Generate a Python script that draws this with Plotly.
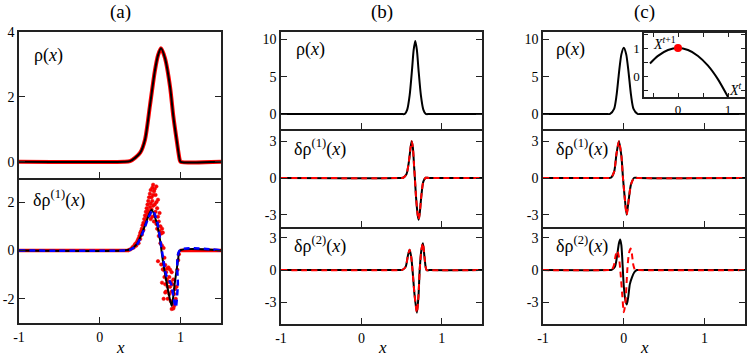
import plotly.graph_objects as go

W, H = 747, 357

# ---------------- data ----------------
# panel (a)
a_rho_x = [-1, 0.30, 0.374, 0.436, 0.50, 0.56, 0.62, 0.68, 0.72, 0.757, 0.807, 0.87, 0.91, 0.95, 0.99, 1.0, 1.5]
a_rho_y = [0, 0, 0.02, 0.12, 0.28, 0.69, 1.72, 2.78, 3.28, 3.5, 3.19, 2.3, 1.4, 0.69, 0.05, 0, 0]

a_d1_black_x = [-1, 0.30, 0.374, 0.456, 0.54, 0.60, 0.642, 0.704, 0.745, 0.778, 0.82, 0.86, 0.89, 0.93, 0.97, 0.99, 1.5]
a_d1_black_y = [0, 0, 0.04, 0.25, 0.86, 1.41, 1.69, 1.15, 0.45, -0.37, -1.2, -1.9, -2.29, -1.3, -0.37, 0, 0]

a_d1_blue_x = [-1, 0.30, 0.374, 0.456, 0.54, 0.60, 0.655, 0.71, 0.75, 0.785, 0.82, 0.86, 0.885, 0.91, 0.94, 0.965, 0.99, 1.5]
a_d1_blue_y = [0, 0, 0.03, 0.22, 0.8, 1.35, 1.66, 1.2, 0.4, -0.35, -1.0, -1.25, -1.4, -1.9, -2.35, -1.5, 0, 0]

a_dots_x = [0.36, 0.38, 0.40, 0.41, 0.42, 0.43, 0.44, 0.45, 0.46, 0.47, 0.48, 0.48, 0.49, 0.50, 0.50, 0.51,
            0.52, 0.52, 0.53, 0.54, 0.54, 0.55, 0.56, 0.56, 0.57, 0.57, 0.58, 0.58, 0.59, 0.59, 0.60, 0.60,
            0.61, 0.61, 0.62, 0.62, 0.63, 0.63, 0.63, 0.64, 0.64, 0.65, 0.65, 0.65, 0.66, 0.66, 0.66, 0.67,
            0.67, 0.68, 0.68, 0.69, 0.69, 0.70, 0.70, 0.70, 0.71, 0.71, 0.72, 0.72, 0.72, 0.73, 0.73, 0.74,
            0.74, 0.75, 0.75, 0.76, 0.76, 0.77, 0.77, 0.77, 0.78, 0.78, 0.79, 0.79, 0.79, 0.80, 0.80, 0.81,
            0.81, 0.81, 0.82, 0.82, 0.83, 0.83, 0.84, 0.84, 0.85, 0.85, 0.86, 0.86, 0.87, 0.87, 0.88, 0.88,
            0.89, 0.89, 0.89, 0.90, 0.90, 0.91, 0.91, 0.92, 0.92, 0.93, 0.94, 0.95, 0.96, 0.97, 0.98]
a_dots_y = [0.02, 0.05, 0.10, 0.15, 0.12, 0.22, 0.28, 0.20, 0.35, 0.42, 0.50, 0.30, 0.60, 0.72, 0.48, 0.80,
            0.90, 0.65, 1.05, 1.15, 0.85, 1.30, 1.45, 1.10, 1.60, 1.25, 1.75, 1.40, 1.90, 1.55, 2.05, 1.65,
            2.20, 1.50, 2.35, 1.80, 2.50, 1.95, 1.30, 2.20, 1.70, 2.60, 2.05, 1.40, 2.72, 2.30, 1.85, 2.45,
            1.20, 2.55, 1.90, 2.30, 1.60, 2.65, 2.00, 1.10, 1.75, 0.90, 2.10, 1.40, -0.44, 1.20, 0.60, 1.55,
            0.80, 1.00, 0.30, 0.70, -0.58, 0.90, 0.20, -1.33, 0.74, -0.78, 0.10, -0.80, -2.00, -0.30, -1.10, -0.60,
            -1.40, -1.74, -0.90, -1.70, -1.20, -0.75, -1.50, -2.00, -0.70, -1.30, -1.10, -1.80, -0.80, -1.50, -1.30, -2.10,
            -0.90, -1.70, -2.42, -1.40, -2.20, -1.20, -2.40, -1.80, -2.30, -1.60, -2.00, -1.50, -0.80, -0.40, -0.15]
a_flat_left_x = [-1, 0.36]
a_flat_right_x = [0.99, 1.5]
a_flat_y = [0, 0]

# panel (b)
b_rho_x = [-1, 0.50, 0.54, 0.57, 0.60, 0.63, 0.65, 0.67, 0.69, 0.71, 0.74, 0.77, 0.80, 0.84, 1.5]
b_rho_y = [0, 0, 0.02, 0.6, 2.5, 6.0, 8.6, 9.8, 8.6, 6.0, 2.5, 0.6, 0.02, 0, 0]

b_d1_x = [-1, 0.48, 0.52, 0.56, 0.59, 0.61, 0.625, 0.64, 0.655, 0.665, 0.68, 0.70, 0.712, 0.725, 0.745, 0.77, 0.80, 0.84, 1.5]
b_d1_y = [0, 0, 0.02, 0.3, 1.3, 2.4, 3.0, 2.5, 1.0, 0, -1.6, -3.0, -3.4, -2.9, -1.5, -0.3, 0.02, 0, 0]

b_d2_x = [-1, 0.47, 0.51, 0.55, 0.58, 0.60, 0.62, 0.636, 0.66, 0.69, 0.71, 0.725, 0.745, 0.765, 0.785, 0.81, 0.85, 1.5]
b_d2_y = [0, 0, 0.02, 0.3, 1.4, 1.9, 1.2, 0, -2.2, -3.95, -2.4, 0, 1.8, 2.5, 1.2, 0.02, 0, 0]

# panel (c)
c_rho_x = [-1, -0.21, -0.17, -0.12, -0.09, -0.06, -0.03, 0.0, 0.03, 0.06, 0.09, 0.12, 0.17, 0.21, 1.5]
c_rho_y = [0, 0, 0.02, 0.7, 2.5, 5.5, 8.0, 8.9, 8.0, 5.5, 2.5, 0.7, 0.02, 0, 0]

c_d1_x = [-1, -0.20, -0.16, -0.12, -0.09, -0.06, -0.03, -0.01, 0.01, 0.035, 0.06, 0.09, 0.13, 0.17, 1.5]
c_d1_y = [0, 0, 0.02, 0.5, 2.0, 3.0, 1.8, 0, -1.5, -3.0, -1.8, -0.5, 0.02, 0, 0]

c_d2_black_x = [-1, -0.19, -0.15, -0.11, -0.08, -0.06, -0.045, -0.03, -0.015, 0.0, 0.02, 0.037, 0.055, 0.075, 0.10, 0.13, 0.16, 0.20, 1.5]
c_d2_black_y = [0, 0, 0.02, 0.3, 1.5, 2.5, 2.85, 2.3, 0.5, -1.5, -2.8, -3.2, -2.5, -1.3, -0.7, -0.2, 0.01, 0, 0]

c_d2_red_x = [-1, -0.19, -0.15, -0.12, -0.10, -0.08, -0.06, -0.04, -0.02, 0.0, 0.02, 0.045, 0.065, 0.085, 0.10, 0.12, 0.14, 0.18, 1.5]
c_d2_red_y = [0, 0, 0.02, 0.5, 1.4, 1.8, 1.2, -0.3, -2.2, -3.9, -3.0, 0.2, 1.6, 2.0, 1.5, 0.4, 0.02, 0, 0]

# inset map
map_x = [-0.56, -0.4, -0.2, 0.0, 0.2, 0.4, 0.6, 0.8, 1.0]
map_y = [0.45, 0.72, 0.93, 1.0, 0.93, 0.72, 0.37, -0.12, -0.75]
fixed_x = [0.0]
fixed_y = [1.0]

x_tick_vals = [-1, 0, 1]
x_tick_text = ["-1", "0", "1"]

# ---------------- layout helpers ----------------
def dx(p0, p1):
    return [p0 / W, p1 / W]

def dy(p0, p1):
    return [1 - p1 / H, 1 - p0 / H]

FONT = "Liberation Serif"
LC = "#222222"

fig = go.Figure()

def line(x, y, ax, color, width, dash="solid", shape="spline"):
    fig.add_trace(go.Scatter(x=x, y=y, mode="lines", xaxis="x" + ax, yaxis="y" + ax,
                             line=dict(color=color, width=width, dash=dash, shape=shape, smoothing=0.7),
                             showlegend=False, hoverinfo="skip"))

DASH = "6px,4px"
# (a) top
line(a_rho_x, a_rho_y, "", "red", 4)
line(a_rho_x, a_rho_y, "", "black", 2)
# (a) bottom
line(a_flat_left_x, a_flat_y, "2", "red", 3.5, shape="linear")
line(a_flat_right_x, a_flat_y, "2", "red", 3.5, shape="linear")
fig.add_trace(go.Scatter(x=a_dots_x, y=a_dots_y, mode="markers", xaxis="x2", yaxis="y2",
                         marker=dict(color="red", size=3.5, line=dict(color="#e00000", width=0.5)),
                         showlegend=False, hoverinfo="skip"))
line(a_d1_black_x, a_d1_black_y, "2", "black", 2)
line(a_d1_blue_x, a_d1_blue_y, "2", "blue", 2.5, dash=DASH)
# (b)
line(b_rho_x, b_rho_y, "3", "black", 2)
line(b_d1_x, b_d1_y, "4", "black", 2)
line(b_d1_x, b_d1_y, "4", "red", 2, dash=DASH)
line(b_d2_x, b_d2_y, "5", "black", 2)
line(b_d2_x, b_d2_y, "5", "red", 2, dash=DASH)
# (c)
line(c_rho_x, c_rho_y, "6", "black", 2)
line(c_d1_x, c_d1_y, "7", "black", 2)
line(c_d1_x, c_d1_y, "7", "red", 2, dash=DASH)
line(c_d2_black_x, c_d2_black_y, "8", "black", 2)
line(c_d2_red_x, c_d2_red_y, "8", "red", 2, dash=DASH)
# inset
line(map_x, map_y, "9", "black", 2)
fig.add_trace(go.Scatter(x=fixed_x, y=fixed_y, mode="markers", xaxis="x9", yaxis="y9",
                         marker=dict(color="red", size=8), showlegend=False, hoverinfo="skip"))

# ---------------- axes ----------------
tickfont = dict(family=FONT, size=14, color="black")
insetfont = dict(family=FONT, size=13, color="black")

def xax(dom, anchor, labels, top_line):
    return dict(domain=dom, anchor=anchor, range=[-1, 1.5], tickvals=x_tick_vals, ticktext=x_tick_text,
                ticks="inside", ticklen=6, tickwidth=1.3, tickcolor=LC,
                showline=True, linewidth=1.5, linecolor=LC, mirror=top_line,
                showgrid=False, zeroline=False, showticklabels=labels, tickfont=tickfont,
                automargin=False)

def yax(dom, anchor, rng, vals):
    return dict(domain=dom, anchor=anchor, range=rng, tickvals=vals, ticktext=[str(v) for v in vals],
                ticks="inside", ticklen=6, tickwidth=1.3, tickcolor=LC,
                showline=True, linewidth=1.5, linecolor=LC, mirror="ticks",
                showgrid=False, zeroline=False, tickfont=tickfont, automargin=False)

ax_a = dx(19, 221)
ax_b = dx(281, 482)
ax_c = dx(543, 745)
r1 = dy(32, 178)
r2 = dy(178, 323)
s1 = dy(32, 129)
s2 = dy(129, 227)
s3 = dy(227, 324)

fig.update_layout(
    template="none",
    xaxis=xax(ax_a, "y", False, True), yaxis=yax(r1, "x", [-0.5, 4], [0, 2, 4]),
    xaxis2=xax(ax_a, "y2", True, False), yaxis2=yax(r2, "x2", [-3, 3], [-2, 0, 2]),
    xaxis3=xax(ax_b, "y3", False, True), yaxis3=yax(s1, "x3", [-2, 11], [0, 5, 10]),
    xaxis4=xax(ax_b, "y4", False, False), yaxis4=yax(s2, "x4", [-4, 4], [-3, 0, 3]),
    xaxis5=xax(ax_b, "y5", True, False), yaxis5=yax(s3, "x5", [-5, 4], [-3, 0, 3]),
    xaxis6=xax(ax_c, "y6", False, True), yaxis6=yax(s1, "x6", [-2, 11], [0, 5, 10]),
    xaxis7=xax(ax_c, "y7", False, False), yaxis7=yax(s2, "x7", [-4, 4], [-3, 0, 3]),
    xaxis8=xax(ax_c, "y8", True, False), yaxis8=yax(s3, "x8", [-5, 4], [-3, 0, 3]),
    xaxis9=dict(domain=dx(644, 745), anchor="y9", range=[-0.68, 1.34],
                tickvals=[-0.5, 0, 0.5, 1], ticktext=["", "0", "", "1"],
                ticks="inside", ticklen=4, tickwidth=1, tickcolor=LC,
                showline=True, linewidth=1.5, linecolor=LC, mirror="ticks",
                showgrid=False, zeroline=False, tickfont=insetfont, automargin=False),
    yaxis9=dict(domain=dy(33, 97), anchor="x9", range=[-0.75, 1.54],
                tickvals=[-0.5, 0, 0.5, 1, 1.5], ticktext=["", "0", "", "1", ""],
                ticks="inside", ticklen=4, tickwidth=1, tickcolor=LC,
                showline=True, linewidth=1.5, linecolor=LC, mirror="ticks",
                showgrid=False, zeroline=False, tickfont=insetfont, automargin=False),
    width=W, height=H, margin=dict(l=0, r=0, t=0, b=0, pad=0), autosize=False,
    paper_bgcolor="white", plot_bgcolor="white", showlegend=False,
    font=dict(family=FONT, color="black"),
)

def ann(text, px, py, size=16, xanchor="center"):
    fig.add_annotation(text=text, x=px / W, y=1 - py / H, xref="paper", yref="paper",
                       showarrow=False, xanchor=xanchor, yanchor="middle",
                       font=dict(family=FONT, size=size, color="black"))

RHO = "ρ(<i>x</i>)"
D1 = "δρ<sup>(1)</sup>(<i>x</i>)"
D2 = "δρ<sup>(2)</sup>(<i>x</i>)"

ann("(a)", 120, 12, 19)
ann("(b)", 382, 12, 19)
ann("(c)", 644, 12, 19)

ann(RHO, 32, 55, 18, "left")
ann(D1, 31, 199, 18, "left")
ann(RHO, 294, 50, 18, "left")
ann(D1, 292, 148, 18, "left")
ann(D2, 292, 245, 18, "left")
ann(RHO, 554, 50, 18, "left")
ann(D1, 554, 148, 18, "left")
ann(D2, 554, 245, 18, "left")

ann("<i>X</i><sup><i>t</i>+1</sup>", 664, 43, 14)
ann("<i>X</i><sup><i>t</i></sup>", 735, 89, 14)

ann("<i>x</i>", 120, 347, 17)
ann("<i>x</i>", 382, 347, 17)
ann("<i>x</i>", 644, 347, 17)

fig.write_html("out.html", config={"displayModeBar": False},
               post_script="document.body.style.margin='0px';")
